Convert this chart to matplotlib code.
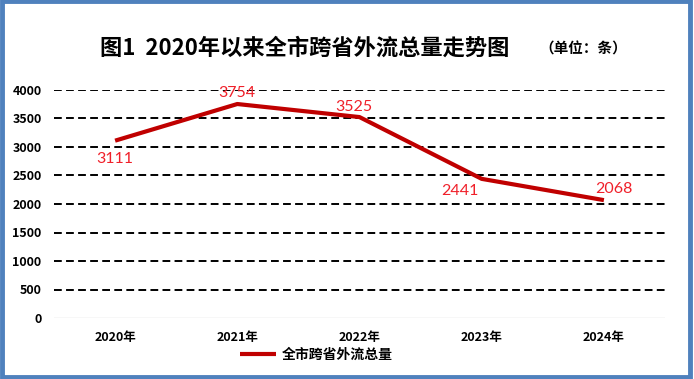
import matplotlib.pyplot as plt
from matplotlib.patches import Rectangle

plt.rcParams['font.family'] = ['Noto Sans CJK SC', 'DejaVu Sans']

# data
years = ['2020年', '2021年', '2022年', '2023年', '2024年']
totals = [3111, 3754, 3525, 2441, 2068]
series_name = '全市跨省外流总量'
yticks = [0, 500, 1000, 1500, 2000, 2500, 3000, 3500, 4000]

# label offsets in points (dx, dy)
label_off = [(0, -13), (0, 8), (-4, 7), (-16, -9), (7, 8)]

fig = plt.figure(figsize=(6.94, 3.79), dpi=100)
ax = fig.add_axes([54 / 694, 1 - 318 / 379, (665 - 54) / 694, (318 - 90) / 379])

x = list(range(len(years)))
line, = ax.plot(x, totals, color='#C00000', lw=3, solid_capstyle='butt', label=series_name)

for xi, v, (dx, dy) in zip(x, totals, label_off):
    ax.annotate(str(v), (xi, v), xytext=(dx, dy), textcoords='offset points',
                ha='center', va='center', color='#F0202A', fontsize=11.5,
                family=['Lato', 'DejaVu Sans'])

ax.set_xlim(-0.5, len(years) - 0.5)
ax.set_ylim(0, 4000)
ax.set_yticks(yticks)
ax.set_yticklabels([str(t) for t in yticks], fontsize=9, fontweight='bold')
ax.set_xticks(x)
ax.set_xticklabels(years, fontsize=9, fontweight='bold')
ax.tick_params(length=0, pad=9)
ax.tick_params(axis='x', pad=9)

for t in yticks[1:]:
    ax.axhline(t, color='black', lw=1.4, ls=(0, (4, 2.2)), zorder=0)
ax.axhline(0, color='#D9D9D9', lw=1, zorder=0)
for s in ax.spines.values():
    s.set_visible(False)

fig.text(305 / 694, 1 - 48 / 379, '图1  2020年以来全市跨省外流总量走势图',
         ha='center', va='center', fontsize=16, fontweight='bold')
fig.text(583 / 694, 1 - 49 / 379, '（单位：条）', ha='center', va='center',
         fontsize=10.5, fontweight='bold')

fig.legend(handles=[line], loc='center', bbox_to_anchor=(316 / 694, 1 - 355 / 379),
           frameon=False, prop={'size': 10, 'weight': 'bold'}, handlelength=2.6,
           handletextpad=0.4)

# blue frame
fig.patches.append(Rectangle((1.5 / 694, 2.5 / 379), 1 - 5.5 / 694, 1 - 3.5 / 379,
                             transform=fig.transFigure, fill=False,
                             edgecolor='#4F81BD', lw=3.5))

fig.savefig('out.png', dpi=100)
